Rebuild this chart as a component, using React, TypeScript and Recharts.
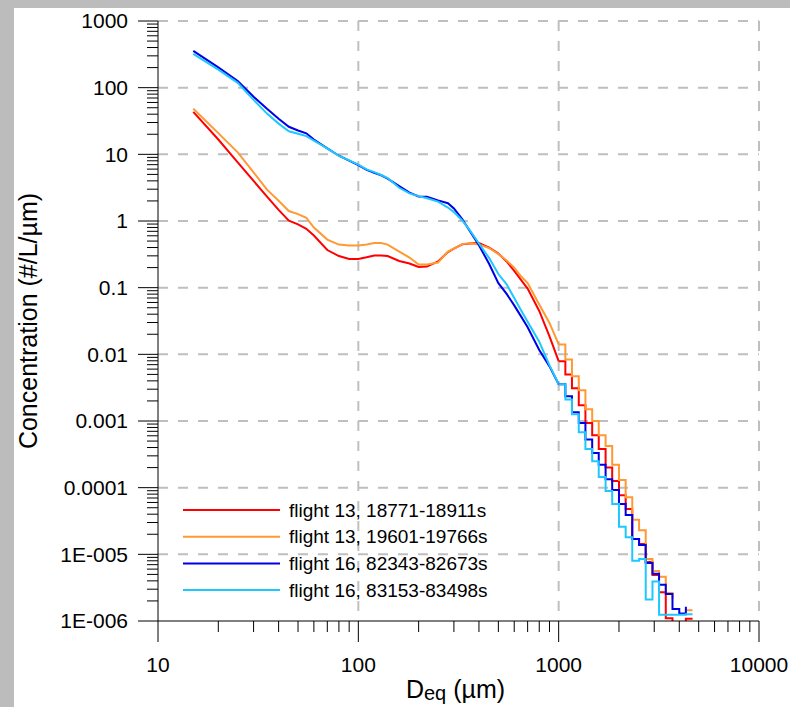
import React from 'react';
import { LineChart, Line, XAxis, YAxis, CartesianGrid, Legend, Label } from 'recharts';

const FONT = '"Liberation Sans", Arial, sans-serif';

// diameters (µm) for the smooth part of each spectrum
const headSizes = [15, 20, 25, 30, 35, 40, 45, 50, 55, 60, 70, 80, 90, 100, 110, 120, 130, 140, 160, 180, 200, 220, 250, 280, 300, 330, 360, 400, 450, 500, 550, 600, 650, 700, 800, 900, 1000];

const f13aHead = [43.4, 16.7, 7.6, 4.0, 2.32, 1.47, 1.01, 0.889, 0.762, 0.605, 0.367, 0.298, 0.269, 0.27, 0.285, 0.303, 0.303, 0.298, 0.251, 0.23, 0.204, 0.207, 0.247, 0.342, 0.386, 0.446, 0.459, 0.467, 0.4, 0.325, 0.247, 0.178, 0.13, 0.097, 0.0448, 0.0186, 0.0079];
const f13bHead = [48.2, 20.8, 10.7, 5.38, 2.95, 2.01, 1.41, 1.27, 1.12, 0.796, 0.527, 0.443, 0.43, 0.43, 0.445, 0.467, 0.467, 0.443, 0.348, 0.283, 0.222, 0.222, 0.238, 0.348, 0.386, 0.45, 0.465, 0.443, 0.393, 0.32, 0.255, 0.2, 0.147, 0.117, 0.056, 0.0296, 0.0141];
const f16aHead = [356, 202, 126, 73.3, 48.2, 34.1, 25.9, 22.8, 20.7, 16.7, 12.3, 9.53, 8.02, 6.87, 5.84, 5.3, 4.85, 4.31, 3.33, 2.66, 2.33, 2.32, 2.04, 1.85, 1.54, 1.07, 0.71, 0.434, 0.226, 0.117, 0.0805, 0.0542, 0.0368, 0.0254, 0.0116, 0.0066, 0.00356];
const f16bHead = [321, 186, 118, 65.7, 40.8, 28.9, 22.2, 20.4, 18.8, 16.1, 12.3, 9.5, 8.1, 7.0, 5.95, 5.4, 4.9, 4.4, 3.15, 2.6, 2.36, 2.2, 1.95, 1.59, 1.36, 1.02, 0.731, 0.459, 0.278, 0.16, 0.112, 0.0699, 0.0456, 0.0307, 0.0155, 0.00684, 0.00356];

// bin edges of the stepped large-size tail
const tailEdges = [1000, 1080, 1165, 1260, 1360, 1470, 1585, 1715, 1850, 2000, 2160, 2330, 2520, 2720, 2940, 3170, 3425, 3700, 4000, 4315, 4660];

const f13aTail = [7.9e-3, 5.0e-3, 3.1e-3, 1.72e-3, 9.3e-4, 6.1e-4, 3.8e-4, 2.0e-4, 1.26e-4, 7.7e-5, 4.8e-5, 1.7e-5, 1.43e-5, 7.7e-6, 4.9e-6, 2.7e-6, 1.1e-6, 7.5e-7, 7.5e-7, 1.08e-6, 1.08e-6];
const f13bTail = [0.0141, 8.4e-3, 4.7e-3, 2.9e-3, 1.5e-3, 1.0e-3, 6.1e-4, 4.2e-4, 2.2e-4, 1.3e-4, 7.2e-5, 3.3e-5, 2.3e-5, 8.5e-6, 5.6e-6, 4.6e-6, 2.64e-6, 2.15e-6, null, 1.45e-6, 1.45e-6];
const f16aTail = [3.56e-3, 2.35e-3, 1.35e-3, 9.3e-4, 5.3e-4, 3.3e-4, 2.2e-4, 1.34e-4, 9.2e-5, 5.7e-5, 3.9e-5, 1.7e-5, 1.38e-5, 7.4e-6, 5.1e-6, 3.5e-6, 2.55e-6, 1.52e-6, 1.3e-6, 1.63e-6, null];
const f16bTail = [3.56e-3, 2.1e-3, 1.26e-3, 6.8e-4, 3.8e-4, 2.5e-4, 1.44e-4, 8.9e-5, 5.7e-5, 2.6e-5, 1.8e-5, 8.0e-6, 8.5e-6, 2.1e-6, 3.9e-6, 1.24e-6, 1.24e-6, 1.24e-6, 1.24e-6, 1.26e-6, 1.26e-6];

const seriesNames = ['flight 13, 18771-18911s', 'flight 13, 19601-19766s', 'flight 16, 82343-82673s', 'flight 16, 83153-83498s'];
const seriesKeys = ['f13a', 'f13b', 'f16a', 'f16b'];
const seriesColors = ['#ff0000', '#ff9933', '#0000e6', '#1ec8ff'];

const xMajor = [10, 100, 1000, 10000];
const xTickLabels = ['10', '100', '1000', '10000'];
const yMajor = [1e-6, 1e-5, 1e-4, 1e-3, 0.01, 0.1, 1, 10, 100, 1000];
const yTickLabels = ['1E-006', '1E-005', '0.0001', '0.001', '0.01', '0.1', '1', '10', '100', '1000'];
const minorSteps = [2, 3, 4, 5, 6, 7, 8, 9];

const headRows = headSizes.map((x, i) => ({ x, f13a: f13aHead[i], f13b: f13bHead[i], f16a: f16aHead[i], f16b: f16bHead[i] }));
const tailRows = tailEdges.map((x, i) => ({ x, f13a: f13aTail[i], f13b: f13bTail[i], f16a: f16aTail[i], f16b: f16bTail[i] }));

const withMinors = (majors: number[]) => {
  const out: number[] = [...majors];
  majors.slice(0, -1).forEach((d) => minorSteps.forEach((m) => out.push(m * d)));
  return out.sort((a, b) => a - b);
};
const xTicks = withMinors(xMajor);
const yTicks = withMinors(yMajor);

const XTick = (props: any) => {
  const { x, y, payload } = props;
  const idx = xMajor.indexOf(payload.value);
  return (
    <g>
      <line x1={x} x2={x} y1={y} y2={y + (idx >= 0 ? 21 : 11)} stroke="#000" strokeWidth={1} />
      {idx >= 0 && (
        <text x={x} y={y + 36} dy="0.71em" textAnchor="middle" fontSize={21} fontFamily={FONT} fill="#000">
          {xTickLabels[idx]}
        </text>
      )}
    </g>
  );
};

const YTick = (props: any) => {
  const { x, y, payload } = props;
  const idx = yMajor.indexOf(payload.value);
  return (
    <g>
      <line x1={x - (idx >= 0 ? 20 : 11)} x2={x} y1={y} y2={y} stroke="#000" strokeWidth={1} />
      {idx >= 0 && (
        <text x={x - 30} y={y} dy="0.355em" textAnchor="end" fontSize={21} fontFamily={FONT} fill="#000">
          {yTickLabels[idx]}
        </text>
      )}
    </g>
  );
};

const XTitle = (props: any) => {
  const vb = props.viewBox;
  return (
    <text x={vb.x + vb.width / 2 - 3} y={vb.y + 77} textAnchor="middle" fontSize={25} fontFamily={FONT} fill="#000">
      D<tspan fontSize={20} dy={2}>eq</tspan>
      <tspan dy={-2}> (µm)</tspan>
    </text>
  );
};

const YTitle = (props: any) => {
  const vb = props.viewBox;
  const cy = vb.y + vb.height / 2;
  return (
    <text x={37} y={cy} transform={`rotate(-90, 37, ${cy})`} textAnchor="middle" fontSize={25} fontFamily={FONT} fill="#000">
      Concentration (#/L/µm)
    </text>
  );
};

const renderLegend = (props: any) => {
  const items = (props.payload || []).filter((p: any) => p.type !== 'none' && seriesNames.includes(p.value));
  return (
    <svg width={340} height={110}>
      {items.map((p: any, i: number) => {
        const cy = 14 + i * 26.7;
        return (
          <g key={p.value}>
            <line x1={8} x2={105} y1={cy} y2={cy} stroke={p.color} strokeWidth={2} />
            <text x={114} y={cy} dy="0.355em" fontSize={19} fontFamily={FONT} fill="#000">
              {p.value}
            </text>
          </g>
        );
      })}
    </svg>
  );
};

export default function App() {
  return (
    <div style={{ position: 'fixed', left: 0, top: 0, width: 790, height: 707, background: '#bcbcbc', overflow: 'hidden' }}>
      <div style={{ position: 'absolute', left: 14, top: 8, right: 0, bottom: 0, background: '#ffffff' }} />
      <div style={{ position: 'absolute', left: 0, top: 0 }}>
        <LineChart width={790} height={707} margin={{ top: 21, right: 31, bottom: 0, left: 0 }} style={{ fontFamily: FONT }}>
          <CartesianGrid
            horizontalValues={yMajor.slice(1)}
            verticalValues={xMajor.slice(1)}
            stroke="#bfbfbf"
            strokeWidth={2}
            strokeDasharray="10 10"
          />
          <XAxis
            dataKey="x"
            type="number"
            scale="log"
            domain={[10, 10000]}
            ticks={xTicks}
            interval={0}
            allowDataOverflow
            height={86}
            tickSize={0}
            tickMargin={0}
            tickLine={false}
            axisLine={{ stroke: '#000', strokeWidth: 1 }}
            tick={<XTick />}
          >
            <Label content={<XTitle />} />
          </XAxis>
          <YAxis
            type="number"
            scale="log"
            domain={[1e-6, 1000]}
            ticks={yTicks}
            interval={0}
            allowDataOverflow
            width={158}
            tickSize={0}
            tickMargin={0}
            tickLine={false}
            axisLine={{ stroke: '#000', strokeWidth: 1 }}
            tick={<YTick />}
          >
            <Label content={<YTitle />} />
          </YAxis>
          {seriesKeys.map((k, i) => (
            <Line
              key={`head-${k}`}
              data={headRows}
              dataKey={k}
              name={seriesNames[i]}
              type="linear"
              stroke={seriesColors[i]}
              strokeWidth={2}
              dot={false}
              activeDot={false}
              isAnimationActive={false}
            />
          ))}
          {seriesKeys.map((k, i) => (
            <Line
              key={`tail-${k}`}
              data={tailRows}
              dataKey={k}
              name={`${seriesNames[i]} tail`}
              legendType="none"
              type="stepAfter"
              stroke={seriesColors[i]}
              strokeWidth={2}
              dot={false}
              activeDot={false}
              isAnimationActive={false}
            />
          ))}
          <Legend
            layout="vertical"
            align="center"
            verticalAlign="middle"
            wrapperStyle={{ left: 175, top: 496, width: 340, height: 110 }}
            content={renderLegend}
          />
        </LineChart>
      </div>
    </div>
  );
}
